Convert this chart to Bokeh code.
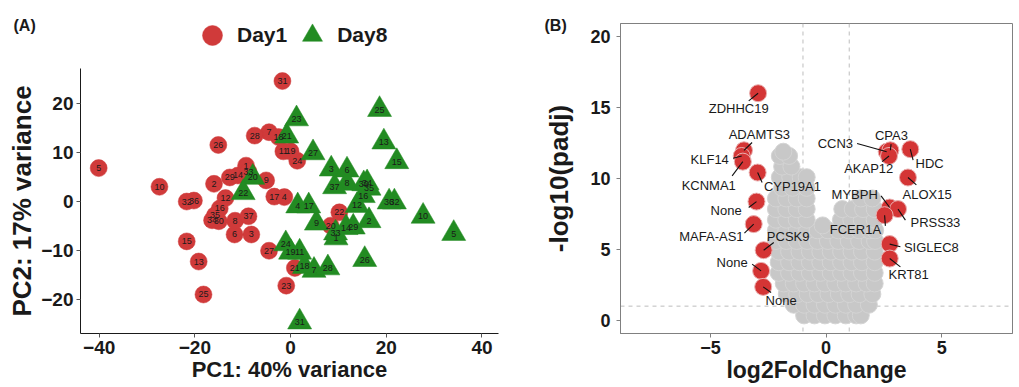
from bokeh.plotting import figure
from bokeh.models import (ColumnDataSource, Legend, LegendItem, Label, Range1d,
                          FixedTicker, Span)
from bokeh.layouts import row, column
from bokeh.embed import file_html
from bokeh.resources import INLINE
from bokeh.core.properties import value

FONT = "Liberation Sans"

# ---------------- Panel A: PCA data ----------------
sample_ids = [str(i) for i in range(1, 38)]
day1_pc1 = [-9.3, -16.0, -8.2, -1.3, -40.1, -11.7, -4.5, -11.6, -5.1, -27.4,
            -1.5, -13.6, -19.2, -11.0, -21.7, -14.8, -3.4, -2.5, 0.0, 8.4,
            0.9, 10.2, -0.9, 1.4, -18.2, -15.1, -4.5, -7.5, -12.7, -15.0,
            -1.7, -21.7, -8.8, -16.4, -15.8, -20.2, -8.8]
day1_pc2 = [7.3, 3.6, -6.7, 0.9, 6.8, -6.7, 14.1, -3.9, 4.3, 3.0,
            10.2, 0.7, -12.2, 5.3, -8.1, -1.4, 1.0, 13.1, 10.2, -4.9,
            -13.5, -2.2, -17.1, 8.3, -18.9, 11.5, -10.0, 13.4, 4.9, -4.0,
            24.5, 0.0, 6.1, -3.8, -2.8, 0.2, -3.0]
day8_pc1 = [9.5, 16.4, 8.5, 1.5, 34.1, 11.8, 4.9, 11.8, 5.4, 27.7,
            1.9, 13.9, 19.5, 11.6, 22.2, 15.2, 3.8, 2.9, 0.0, -7.9,
            -0.8, -9.9, 1.25, -1.0, 18.6, 15.5, 4.7, 7.8, 13.1, 15.3,
            1.9, 21.7, 9.4, 16.0, 16.4, 20.6, 9.2]
day8_pc2 = [-7.4, -3.9, 6.6, -0.9, -6.5, 6.4, -14.0, 3.7, -4.4, -3.0,
            -10.3, -0.8, 12.1, -5.3, 8.1, 1.2, -0.9, -13.2, -10.3, 4.9,
            13.3, 1.8, 16.8, -8.6, 18.7, -11.8, 9.9, -13.5, -5.2, 3.6,
            -24.5, -0.1, -6.4, 3.8, 2.7, -0.1, 3.0]
pc1_ticks = [-40, -20, 0, 20, 40]
pc2_ticks = [-20, -10, 0, 10, 20]

# ---------------- Panel B: volcano data ----------------
genes = ["ZDHHC19", "ADAMTS3", "KLF14", "KCNMA1", "CYP19A1", "None",
         "MAFA-AS1", "PCSK9", "None", "None", "CCN3", "CPA3", "AKAP12",
         "HDC", "ALOX15", "MYBPH", "PRSS33", "FCER1A", "SIGLEC8", "KRT81"]
gene_lfc = [-2.94, -3.55, -3.65, -3.60, -2.96, -3.01, -3.13, -2.70, -2.81, -2.72,
            2.62, 2.78, 2.72, 3.64, 3.54, 2.75, 3.11, 2.53, 2.75, 2.75]
gene_padj = [16.03, 12.0, 11.6, 11.2, 10.43, 8.38, 6.79, 4.95, 3.49, 2.36,
             11.9, 12.0, 11.6, 12.08, 10.08, 7.96, 7.85, 7.42, 5.38, 4.36]
grey_cloud = [
    (-0.95, 0.35), (-0.5, 0.35), (-0.05, 0.35), (0.4, 0.35), (0.85, 0.35), (1.3, 0.35), (1.5, 0.35),
    (-1.4, 1.1), (-0.95, 1.1), (-0.5, 1.1), (-0.05, 1.1), (0.4, 1.1), (0.85, 1.1), (1.3, 1.1), (1.85, 1.1),
    (-1.7, 1.85), (-1.25, 1.85), (-0.8, 1.85), (-0.35, 1.85), (0.1, 1.85), (0.55, 1.85), (1.0, 1.85), (1.45, 1.85), (2.0, 1.85),
    (-1.83, 2.6), (-1.4, 2.6), (-0.95, 2.6), (-0.5, 2.6), (-0.05, 2.6), (0.4, 2.6), (0.85, 2.6), (1.3, 2.6), (1.75, 2.6), (2.1, 2.6),
    (-2.05, 3.35), (-1.6, 3.35), (-1.15, 3.35), (-0.7, 3.35), (-0.25, 3.35), (0.2, 3.35), (0.65, 3.35), (1.1, 3.35), (1.55, 3.35), (2.1, 3.35),
    (-2.05, 4.1), (-1.6, 4.1), (-1.15, 4.1), (-0.7, 4.1), (-0.25, 4.1), (0.2, 4.1), (0.65, 4.1), (1.1, 4.1), (1.55, 4.1), (2.1, 4.1),
    (-2.05, 4.85), (-1.6, 4.85), (-1.15, 4.85), (-0.7, 4.85), (-0.25, 4.85), (0.2, 4.85), (0.65, 4.85), (1.1, 4.85), (1.55, 4.85), (2.1, 4.85),
    (-2.17, 5.6), (-1.72, 5.6), (-1.27, 5.6), (-0.82, 5.6), (-0.37, 5.6), (0.08, 5.6), (0.53, 5.6), (0.98, 5.6), (1.43, 5.6), (1.88, 5.6), (2.12, 5.6),
    (-2.17, 6.35), (-1.72, 6.35), (-1.27, 6.35), (-0.82, 6.35), (-0.37, 6.35), (0.08, 6.35), (0.53, 6.35), (0.98, 6.35), (1.43, 6.35), (1.88, 6.35), (2.12, 6.35),
    (-0.15, 6.7),
    (-2.17, 7.1), (-1.72, 7.1), (-1.27, 7.1), (-0.84, 7.1), (0.64, 7.1), (1.09, 7.1), (1.54, 7.1), (2.1, 7.1),
    (-2.17, 7.85), (-1.72, 7.85), (-1.27, 7.85), (-0.84, 7.85), (0.7, 7.85), (1.15, 7.85), (1.6, 7.85), (2.1, 7.85),
    (-2.17, 8.6), (-1.72, 8.6), (-1.27, 8.6), (-0.84, 8.6), (1.5, 8.6), (2.0, 8.6),
    (-1.9, 9.35), (-1.45, 9.35), (-0.84, 9.35),
    (-2.0, 10.1), (-1.55, 10.1), (-1.1, 10.1), (-0.84, 10.1),
    (-1.9, 10.85), (-1.5, 10.85),
    (-2.0, 11.6), (-1.6, 11.6),
    (-1.85, 11.9),
]
lfc_ticks = [-5, 0, 5]
padj_ticks = [0, 5, 10, 15, 20]
lfc_cutoff = 1
padj_cutoff = 1

# ---------------- layout / style (screen pixels) ----------------
label_dx = [-19.4, 15.4, -32.0, -34.1, 34.8, -30.4, -42.3, 24.5, -29.0, 17.9,
            -51.3, 1.0, -20.3, 19.4, 19.1, -35.0, 37.4, -29.2, 41.7, 19.0]
label_dy = [14.9, -16.2, 3.9, 24.2, 14.3, 9.2, 12.4, -13.7, -8.3, 13.9,
            -8.6, -14.5, 12.6, 14.4, 16.6, -13.4, 13.4, 14.0, 3.4, 15.6]
line_dx = [-9.4, 8.1, -8.6, -10.7, 4.5, -7.8, -9.3, 10.1, -9.0, 7.9,
           -29.6, 0.7, -6.9, 2.8, 8.4, -8.6, 7.4, 0.8, 10.7, 10.7]
line_dy = [7.6, -7.8, 2.2, 14.2, 10.0, 5.9, 9.0, -7.7, -6.7, 5.6,
           -8.2, -6.2, 5.6, 11.0, 7.3, -11.7, 11.0, 10.7, 2.7, 8.3]

RED = "#D03A3A"
GREEN = "#228B22"
GREY = "#C8C8C8"
H = 387
TOP_A = 68


def style_axes(p, tick_size, xtitle_size, ytitle_size, line_color, tick_color, ystand):
    for ax in (p.xaxis[0], p.yaxis[0]):
        ax.axis_line_color = line_color
        ax.axis_line_width = 1
        ax.major_tick_line_color = tick_color
        ax.major_tick_in = 0
        ax.major_tick_out = 4
        ax.minor_tick_line_color = None
        ax.major_label_text_font = FONT
        ax.major_label_text_font_style = "bold"
        ax.major_label_text_font_size = tick_size
        ax.major_label_text_color = "#1a1a1a"
        ax.axis_label_text_font = FONT
        ax.axis_label_text_font_style = "bold"
        ax.axis_label_text_color = "#1a1a1a"
        ax.major_label_standoff = 3
    p.xaxis[0].axis_label_text_font_size = xtitle_size
    p.yaxis[0].axis_label_text_font_size = ytitle_size
    p.xaxis[0].axis_label_standoff = 0
    p.yaxis[0].axis_label_standoff = ystand


# ---------------- Panel A figure ----------------
xA = (-43.9, 43.46)
yA = (-26.83, 27.05)
pA = figure(width=515, height=H - TOP_A, x_range=Range1d(*xA), y_range=Range1d(*yA),
            output_backend="svg", toolbar_location=None, frame_align=False,
            min_border_left=80, min_border_right=17, min_border_top=0, min_border_bottom=54)
pA.outline_line_color = None
pA.grid.visible = False
pA.xaxis.ticker = FixedTicker(ticks=pc1_ticks)
pA.yaxis.ticker = FixedTicker(ticks=pc2_ticks)
pA.xaxis.axis_label = "PC1: 40% variance"
pA.yaxis.axis_label = "PC2: 17% variance"
style_axes(pA, "19px", "22px", "26px", "#1a1a1a", "#555555", 1)

src1 = ColumnDataSource(dict(x=day1_pc1, y=day1_pc2, lab=sample_ids))
src8 = ColumnDataSource(dict(x=day8_pc1, y=day8_pc2, lab=sample_ids))
m1 = dict(marker="circle", size=17, fill_color=RED, line_color=RED, line_alpha=0.5)
m8 = dict(marker="triangle", size=24, fill_color=GREEN, line_color=GREEN, line_alpha=0.5)
pA.scatter("x", "y", source=src1, **m1)
pA.scatter("x", "y", source=src8, **m8)
for s in (src1, src8):
    pA.text("x", "y", text="lab", source=s, text_font=value(FONT), text_font_size="9px",
            text_align="center", text_baseline="middle", text_color="#1a1a1a")

# header strip above panel A: legend + panel tag.  Its ranges lie far outside
# the PCA values, so the series renderers only feed the legend swatches.
hdr = figure(width=515, height=TOP_A, x_range=Range1d(1000, 1001), y_range=Range1d(1000, 1001),
             x_axis_type=None, y_axis_type=None, output_backend="svg",
             toolbar_location=None, frame_align=False, min_border=0)
hdr.outline_line_color = None
hdr.grid.visible = False
e1 = hdr.scatter("x", "y", source=src1, **m1)
e8 = hdr.scatter("x", "y", source=src8, **m8)
legend = Legend(items=[LegendItem(label="Day1", renderers=[e1], index=0),
                       LegendItem(label="Day8", renderers=[e8], index=0)],
                orientation="horizontal", location=(187, 8),
                glyph_width=50, glyph_height=50, label_standoff=0, spacing=0,
                padding=0, margin=0, border_line_color=None, background_fill_alpha=0,
                label_text_font=FONT, label_text_font_size="21px",
                label_text_font_style="bold", label_text_color="#1a1a1a")
hdr.add_layout(legend, "center")
hdr.add_layout(Label(x=13, y=43, x_units="screen", y_units="screen", text="(A)",
                     text_font=FONT, text_font_size="16px", text_font_style="bold",
                     text_baseline="middle", text_align="left", text_color="#1a1a1a"))

# ---------------- Panel B figure ----------------
xB = (-8.89, 8.06)
yB = (-0.93, 20.95)
frameB_w, frameB_h = 392, 310
pB = figure(width=504, height=H, x_range=Range1d(*xB), y_range=Range1d(*yB),
            output_backend="svg", toolbar_location=None, frame_align=False,
            min_border_left=105, min_border_right=7, min_border_top=23, min_border_bottom=54)
pB.outline_line_color = "#808080"
pB.grid.visible = False
pB.xaxis.ticker = FixedTicker(ticks=lfc_ticks)
pB.yaxis.ticker = FixedTicker(ticks=padj_ticks)
pB.xaxis.axis_label = "log2FoldChange"
pB.yaxis.axis_label = "-log10(padj)"
style_axes(pB, "18px", "23px", "26px", "#808080", "#808080", 13)
pB.yaxis[0].major_label_standoff = 6

for loc in (-lfc_cutoff, lfc_cutoff):
    pB.add_layout(Span(location=loc, dimension="height", line_color="#BDBDBD",
                       line_dash="4 4", line_width=1, level="underlay"))
pB.add_layout(Span(location=padj_cutoff, dimension="width", line_color="#BDBDBD",
                   line_dash="4 4", line_width=1, level="underlay"))

gx = [g[0] for g in grey_cloud]
gy = [g[1] for g in grey_cloud]
pB.scatter(gx, gy, marker="circle", size=17, fill_color=GREY, line_color="#D4D4D4")

pxx = frameB_w / (xB[1] - xB[0])
pxy = frameB_h / (yB[1] - yB[0])
seg_x1 = [x + dx / pxx for x, dx in zip(gene_lfc, line_dx)]
seg_y1 = [y - dy / pxy for y, dy in zip(gene_padj, line_dy)]
srcG = ColumnDataSource(dict(x=gene_lfc, y=gene_padj, g=genes, dx=label_dx, dy=label_dy,
                             x1=seg_x1, y1=seg_y1))
pB.scatter("x", "y", source=srcG, marker="circle", size=17, fill_color="#D43535",
           line_color="#E9B0B0", line_width=1)
pB.segment("x", "y", "x1", "y1", source=srcG, line_color="#111111", line_width=1.1)
pB.text("x", "y", text="g", source=srcG, x_offset="dx", y_offset="dy",
        text_font=value(FONT), text_font_size="13px", text_align="center",
        text_baseline="middle", text_color="#1a1a1a")
pB.add_layout(Label(x=-76, y=-1.5, x_units="screen", y_units="screen", text="(B)",
                    text_font=FONT, text_font_size="16px", text_font_style="bold",
                    text_baseline="middle", text_align="left", text_color="#1a1a1a"), "above")

layout = row(column(hdr, pA), pB)
open("out.html", "w").write(file_html(layout, INLINE))
